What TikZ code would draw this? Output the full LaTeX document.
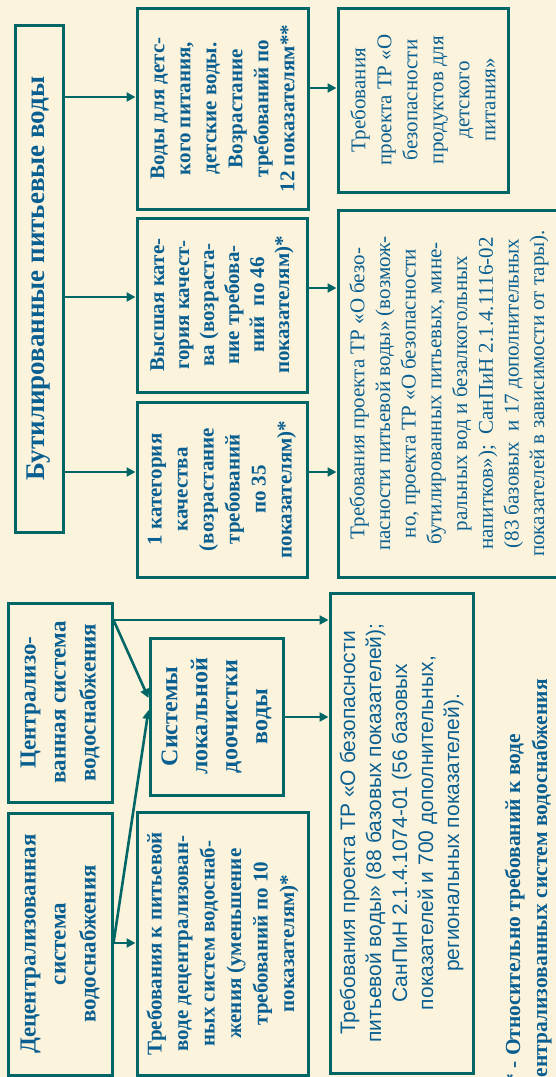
\documentclass[tikz,border=0pt]{standalone}
\usepackage{fontspec}
\setmainfont{Liberation Serif}
\newfontfamily\arialf{Liberation Sans}
\usetikzlibrary{arrows.meta}
\definecolor{bg}{RGB}{251,243,220}
\definecolor{ln}{RGB}{0,102,102}
\definecolor{tx}{RGB}{10,95,145}
\begin{document}
\begin{tikzpicture}[x=1pt,y=-1pt,
  box/.style={draw=ln, line width=3pt, rotate=90, inner sep=0pt, align=center, text=tx},
  arr/.style={draw=ln, line width=2.6pt, -{Triangle[length=9pt,width=9pt]}},
  fnote/.style={rotate=90, anchor=base west, text=tx, font=\bfseries\fontsize{21.5}{27}\selectfont}
]
\path[use as bounding box] (0,0) rectangle (556,1077);
\fill[bg] (0,0) rectangle (556,1077);
\clip (0,0) rectangle (556,1077);

\node[box, minimum width=507pt, minimum height=48pt, font=\bfseries\fontsize{27}{30}\selectfont] (main) at (39,278.5) {Бутилированные питьевые воды};

\node[box, minimum width=201pt, minimum height=171pt, font=\bfseries\fontsize{21}{26}\selectfont] (vody) at (222.5,108.5) {Воды для детс-\\кого питания,\\детские воды.\\Возрастание\\требований по\\12 показателям**};

\node[box, minimum width=184pt, minimum height=170pt, font=\fontsize{21}{26}\selectfont] (trdet) at (423,100) {Требования\\проекта ТР «О\\безопасности\\продуктов для\\детского\\питания»};

\node[box, minimum width=174pt, minimum height=170pt, font=\bfseries\fontsize{21}{25}\selectfont] (vys) at (222,305) {Высшая кате-\\гория качест-\\ва (возраста-\\ние требова-\\ний\ \ по 46\\показателям)*};

\node[box, minimum width=175pt, minimum height=170pt, font=\bfseries\fontsize{21}{26}\selectfont] (kat1) at (222,489.5) {1 категория\\качества\\(возрастание\\требований\\по 35\\показателям)*};

\node[box, minimum width=367pt, minimum height=222pt, font=\fontsize{21}{25.7}\selectfont] (trbut) at (449,393.5) {Требования проекта ТР «О безо-\\пасности питьевой воды» (возмож-\\но, проекта ТР «О безопасности\\бутилированных питьевых, мине-\\ральных вод и безалкогольных\\напитков»);\ \ СанПиН 2.1.4.1116-02\\(83 базовых\ \ и 17 дополнительных\\показателей в зависимости от тары).};

\node[box, minimum width=199pt, minimum height=104pt, font=\bfseries\fontsize{23}{30}\selectfont] (centr) at (60,702.5) {Централизо-\\ванная система\\водоснабжения};

\node[box, minimum width=262pt, minimum height=104pt, font=\bfseries\fontsize{23}{30}\selectfont] (decentr) at (60,944) {Децентрализованная\\система\\водоснабжения};

\node[box, minimum width=157pt, minimum height=133pt, font=\bfseries\fontsize{24}{30}\selectfont] (sist) at (216.5,716.5) {Системы\\локальной\\доочистки\\воды};

\node[box, minimum width=263pt, minimum height=171pt, font=\bfseries\fontsize{21}{26.5}\selectfont] (trdec) at (222.5,943.5) {Требования к питьевой\\воде децентрализован-\\ных систем водоснаб-\\жения (уменьшение\\требований по 10\\показателям)*};

\node[box, minimum width=480pt, minimum height=143pt, font=\arialf\fontsize{21}{26}\selectfont] (trpit) at (401.5,833) {Требования проекта ТР «О безопасности\\питьевой воды» (88 базовых показателей);\\СанПиН 2.1.4.1074-01 (56 базовых\\показателей и 700 дополнительных,\\региональных показателей).};

\node[fnote] (fn1) at (520,1088) {* - Относительно требований к воде};
\node[fnote] (fn2) at (547,1093) {централизованных систем водоснабжения};

\draw[arr] (main.south |- 0,97) -- (vody.north |- 0,97);
\draw[arr] (main.south |- 0,297) -- (vys.north |- 0,297);
\draw[arr] (main.south |- 0,472) -- (kat1.north |- 0,472);
\draw[arr] (vody.south |- 0,88) -- (trdet.north |- 0,88);
\draw[arr] (vys.south |- 0,288) -- (trbut.north |- 0,288);
\draw[arr] (kat1.south |- 0,472) -- (trbut.north |- 0,472);
\draw[arr] (centr.south |- 0,620) -- (trpit.north |- 0,620);
\draw[arr] (centr.south |- 0,620) -- (sist.north |- 0,698);
\draw[arr] (decentr.south |- 0,943) -- (sist.north |- 0,710);
\draw[arr] (decentr.south |- 0,943) -- (trdec.north |- 0,943);
\draw[arr] (sist.south |- 0,717) -- (trpit.north |- 0,717);
\end{tikzpicture}
\end{document}
